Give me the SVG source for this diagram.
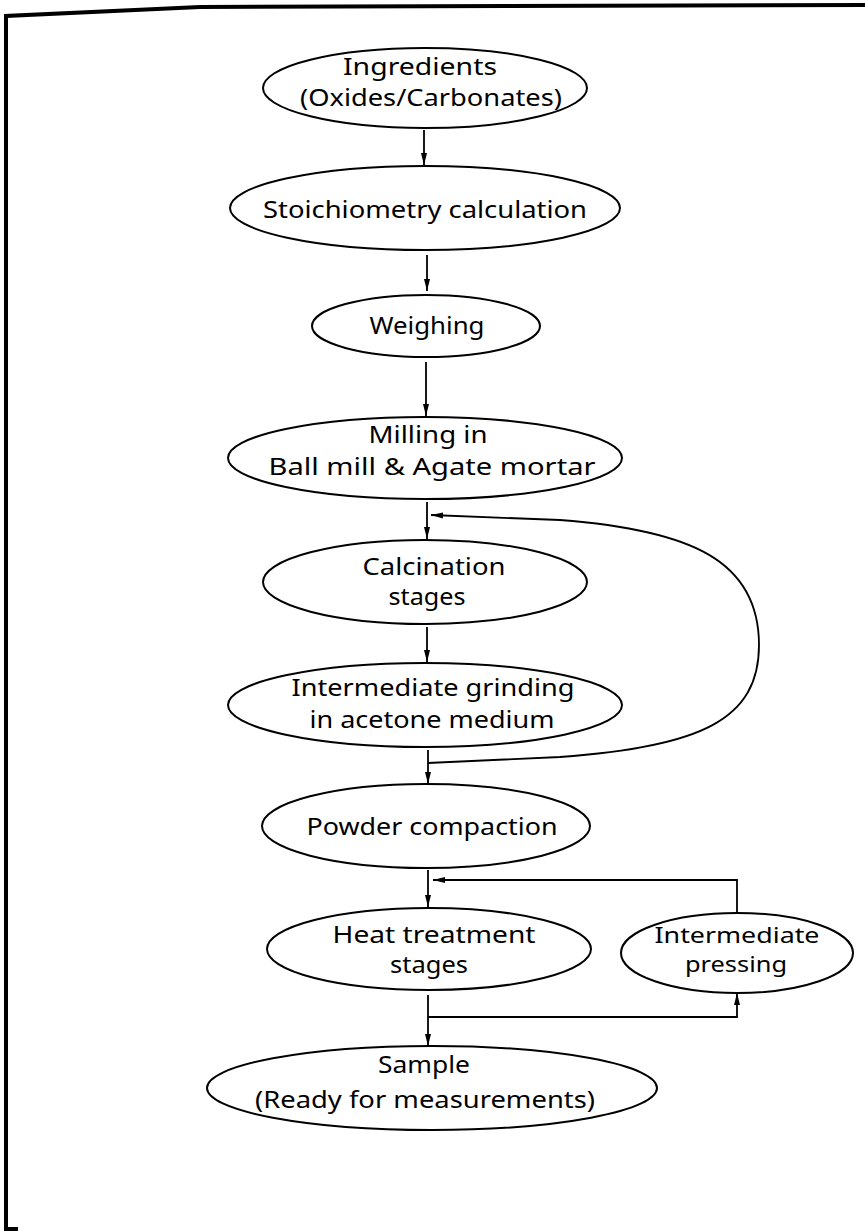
<svg xmlns="http://www.w3.org/2000/svg" width="865" height="1231" viewBox="0 0 865 1231">
<defs>
<marker id="ah" viewBox="0 0 12 8" refX="12" refY="4" markerWidth="12" markerHeight="8" markerUnits="userSpaceOnUse" orient="auto">
<path d="M0,1 L12,4 L0,7 Z" fill="#000"/>
</marker>
<style>
.n ellipse{fill:#fff;stroke:#000;stroke-width:2}
.n text{font-family:"Noto Sans","DejaVu Sans",sans-serif;font-size:23px;fill:#000;text-anchor:middle}
.n text.s{font-size:21px}
.c path,.c line{fill:none;stroke:#000;stroke-width:1.8}
.frame{fill:none;stroke:#000;stroke-width:4}
</style>
</defs>
<rect width="865" height="1231" fill="#fff"/>
<path class="frame" d="M6,1231 L6,16 L200,7 L865,5"/>
<path class="frame" d="M6,1229 L18,1229" stroke-width="3"/>

<g class="c">
<line x1="424" y1="130" x2="424" y2="165" marker-end="url(#ah)"/>
<line x1="427" y1="255" x2="427" y2="291" marker-end="url(#ah)"/>
<line x1="426" y1="362" x2="426" y2="416" marker-end="url(#ah)"/>
<line x1="427" y1="502" x2="427" y2="539" marker-end="url(#ah)"/>
<line x1="427" y1="627" x2="427" y2="662" marker-end="url(#ah)"/>
<line x1="428" y1="750" x2="428" y2="784" marker-end="url(#ah)"/>
<path d="M428,763 L560,757 C700,747 759,720 759,645 C759,560 690,530 560,520 L431,515" marker-end="url(#ah)"/>
<line x1="428" y1="870" x2="428" y2="907" marker-end="url(#ah)"/>
<path d="M737,913 L737,880 L433,880" marker-end="url(#ah)"/>
<line x1="428" y1="995" x2="428" y2="1046" marker-end="url(#ah)"/>
<path d="M428,1017 L737,1017 L737,993" marker-end="url(#ah)"/>
</g>

<g id="n1" class="n"><ellipse cx="425" cy="88" rx="162" ry="40"/>
<text x="420" y="75" textLength="154" lengthAdjust="spacingAndGlyphs">Ingredients</text>
<text x="431" y="106" textLength="262" lengthAdjust="spacingAndGlyphs">(Oxides/Carbonates)</text></g>

<g id="n2" class="n"><ellipse cx="425" cy="208" rx="195" ry="42"/>
<text x="425" y="218" textLength="324" lengthAdjust="spacingAndGlyphs">Stoichiometry calculation</text></g>

<g id="n3" class="n"><ellipse cx="426" cy="326" rx="114" ry="31"/>
<text x="427" y="334" textLength="115" lengthAdjust="spacingAndGlyphs">Weighing</text></g>

<g id="n4" class="n"><ellipse cx="425" cy="458" rx="197" ry="41"/>
<text x="428" y="443" textLength="119" lengthAdjust="spacingAndGlyphs">Milling in</text>
<text x="432" y="475" textLength="327" lengthAdjust="spacingAndGlyphs">Ball mill &amp; Agate mortar</text></g>

<g id="n5" class="n"><ellipse cx="425" cy="582" rx="162" ry="42"/>
<text x="434" y="575" textLength="143" lengthAdjust="spacingAndGlyphs">Calcination</text>
<text x="427" y="605" textLength="77" lengthAdjust="spacingAndGlyphs">stages</text></g>

<g id="n6" class="n"><ellipse cx="425" cy="705" rx="197" ry="42"/>
<text x="433" y="696" textLength="283" lengthAdjust="spacingAndGlyphs">Intermediate grinding</text>
<text x="432" y="728" textLength="245" lengthAdjust="spacingAndGlyphs">in acetone medium</text></g>

<g id="n7" class="n"><ellipse cx="426" cy="826" rx="164" ry="42"/>
<text x="432" y="835" textLength="251" lengthAdjust="spacingAndGlyphs">Powder compaction</text></g>

<g id="n8" class="n"><ellipse cx="429" cy="949" rx="162" ry="41"/>
<text x="434" y="943" textLength="203" lengthAdjust="spacingAndGlyphs">Heat treatment</text>
<text x="429" y="973" textLength="78" lengthAdjust="spacingAndGlyphs">stages</text></g>

<g id="n9" class="n"><ellipse cx="737" cy="953" rx="116" ry="40"/>
<text class="s" x="737" y="943" textLength="165" lengthAdjust="spacingAndGlyphs">Intermediate</text>
<text class="s" x="736" y="972" textLength="102" lengthAdjust="spacingAndGlyphs">pressing</text></g>

<g id="n10" class="n"><ellipse cx="432" cy="1088" rx="225" ry="42"/>
<text x="424" y="1073" textLength="92" lengthAdjust="spacingAndGlyphs">Sample</text>
<text x="425" y="1108" textLength="340" lengthAdjust="spacingAndGlyphs">(Ready for measurements)</text></g>
</svg>
